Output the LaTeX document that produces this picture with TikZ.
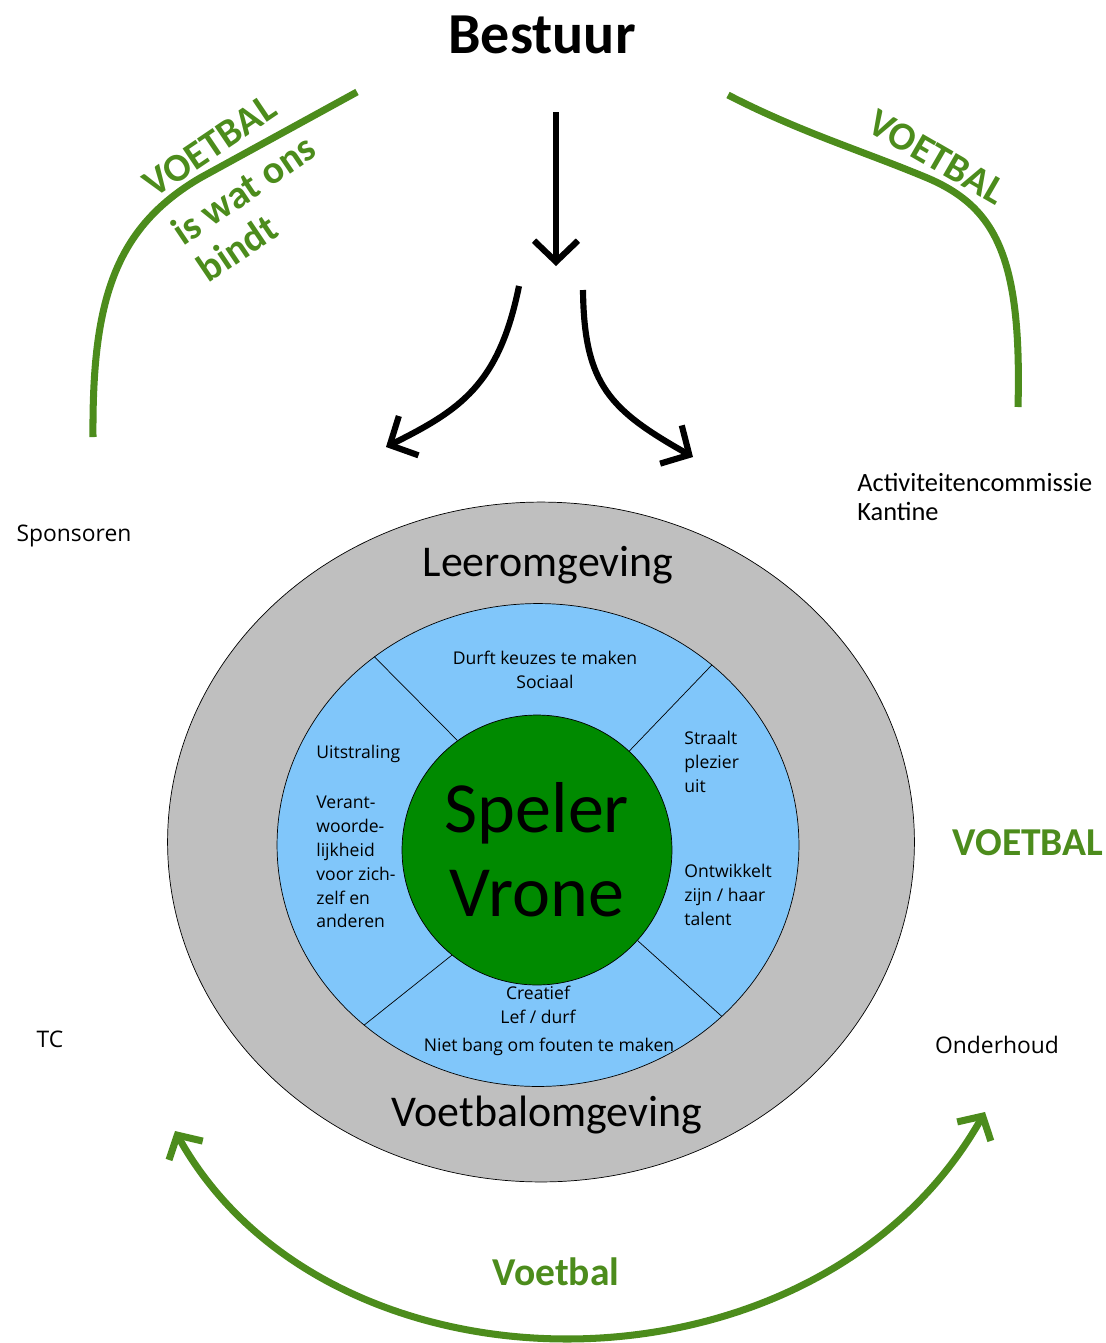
\documentclass[tikz,border=0pt]{standalone}
\usepackage{fontspec}
\setmainfont{Open Sans}
\newfontfamily\calfont{Carlito}
\usepackage{tikz}
\usetikzlibrary{arrows.meta,shapes.geometric,positioning}

\definecolor{voetgreen}{RGB}{76,140,28}
\definecolor{spelergreen}{RGB}{0,138,0}
\definecolor{ringblue}{RGB}{128,198,250}
\definecolor{envgray}{RGB}{191,191,191}

\begin{document}
\begin{tikzpicture}[x = 0.02cm, y = -0.02cm,
  greenline/.style = {draw=voetgreen, line width=4pt},
  greenarr/.style = {greenline, {Straight Barb[length=10pt,width=22pt]}-{Straight Barb[length=10pt,width=22pt]}},
  blackarr/.style = {line width=3.5pt, -{Straight Barb[length=12pt,width=25pt]}},
  greentxt/.style = {text=voetgreen, inner sep=0pt, font=\calfont\bfseries\fontsize{22.5}{25.5}\selectfont},
  labeltxt/.style = {inner sep=0pt, font=\fontsize{13}{16}\selectfont},
  envtxt/.style = {inner sep=0pt, font=\calfont\fontsize{25}{30}\selectfont},
  ringtxt/.style = {inner sep=0pt, align=left, font=\fontsize{10}{13.6}\selectfont}]
\useasboundingbox (0,0) rectangle (1106,1343);

% circles
\node[ellipse, draw, fill=envgray, minimum width=14.94cm, minimum height=13.6cm, inner sep=0pt] (omg) at (541,842) {};
\node[ellipse, draw, fill=ringblue, minimum width=10.44cm, minimum height=9.66cm, inner sep=0pt] (ring) at (538,845) {};
\node[circle, draw, fill=spelergreen, minimum size=5.4cm, inner sep=0pt, align=center,
  font=\calfont\fontsize{41}{47.6}\selectfont] (speler) at (537,850) {Speler\\Vrone};

\draw (ring.131) -- (speler.126);
\draw (ring.46) -- (speler.47);
\draw (ring.226) -- (speler.231);
\draw (ring.317) -- (speler.318);

\node[envtxt] (leer) at (548,565) {Leeromgeving};
\node[envtxt] (voetomg) at (547,1115) {Voetbalomgeving};

\node[ringtxt, align=center] (durft) at (545,670) {Durft keuzes te maken\\Sociaal};
\node[ringtxt, anchor=west] (uit) at (316,754) {Uitstraling};
\node[ringtxt, anchor=west] (verant) at (316,862) {Verant-\\woorde-\\lijkheid\\voor zich-\\zelf en\\anderen};
\node[ringtxt, anchor=west] (straalt) at (684,762) {Straalt\\plezier\\uit};
\node[ringtxt, anchor=west] (ontw) at (684,895) {Ontwikkelt\\zijn / haar\\talent};
\node[ringtxt, align=center] (crea) at (538,1005) {Creatief\\Lef / durf};
\node[ringtxt] (niet) at (549,1047) {Niet bang om fouten te maken};

% top
\node[inner sep=0pt, font=\calfont\bfseries\fontsize{33}{40}\selectfont] (bestuur) at (542,35) {Bestuur};

\coordinate (a0) at (556,112);
\coordinate (a1) at (556,266);
\coordinate (l0) at (519,286);
\coordinate (l1) at (386,447);
\coordinate (r0) at (583,290);
\coordinate (r1) at (693,457);

\draw[blackarr] (a0) -- (a1);
\draw[blackarr] (l0) .. controls (499,385) and (460,410) .. (l1);
\draw[blackarr] (r0) .. controls (584,385) and (610,410) .. (r1);

% green lines
\coordinate (gl0) at (357,92);
\coordinate (gl1) at (93,437);
\coordinate (gr0) at (728,95);
\coordinate (gr1) at (1018,407);
\coordinate (gb0) at (175,1131);
\coordinate (gb1) at (985,1112);

\draw[greenline] (gl0) -- (200,178) .. controls (115,228) and (92,300) .. (gl1);
\draw[greenline] (gr0) .. controls (800,132) and (860,150) .. (925,177)
  .. controls (995,206) and (1022,255) .. (gr1);
\draw[greenarr] (gb0) .. controls (330,1409) and (817,1409) .. (gb1);

\node[greentxt, rotate=34] (vtl) at (210,146) {VOETBAL};
\node[greentxt, rotate=34, align=left] (bindt) at (256,208) {is wat ons\\bindt};
\node[greentxt, rotate=-30] (vtr) at (937,157) {VOETBAL};
\node[greentxt] (vright) at (1028,843) {VOETBAL};
\node[greentxt] (vbottom) at (556,1272) {Voetbal};

% labels
\node[labeltxt] (spons) at (74,536) {Sponsoren};
\node[labeltxt, anchor=west, align=left, font=\calfont\fontsize{15}{17}\selectfont] (act) at (857,497) {Activiteitencommissie\\Kantine};
\node[labeltxt] (tc) at (50,1039) {TC};
\node[labeltxt] (onderh) at (997,1045) {Onderhoud};

\end{tikzpicture}
\end{document}
